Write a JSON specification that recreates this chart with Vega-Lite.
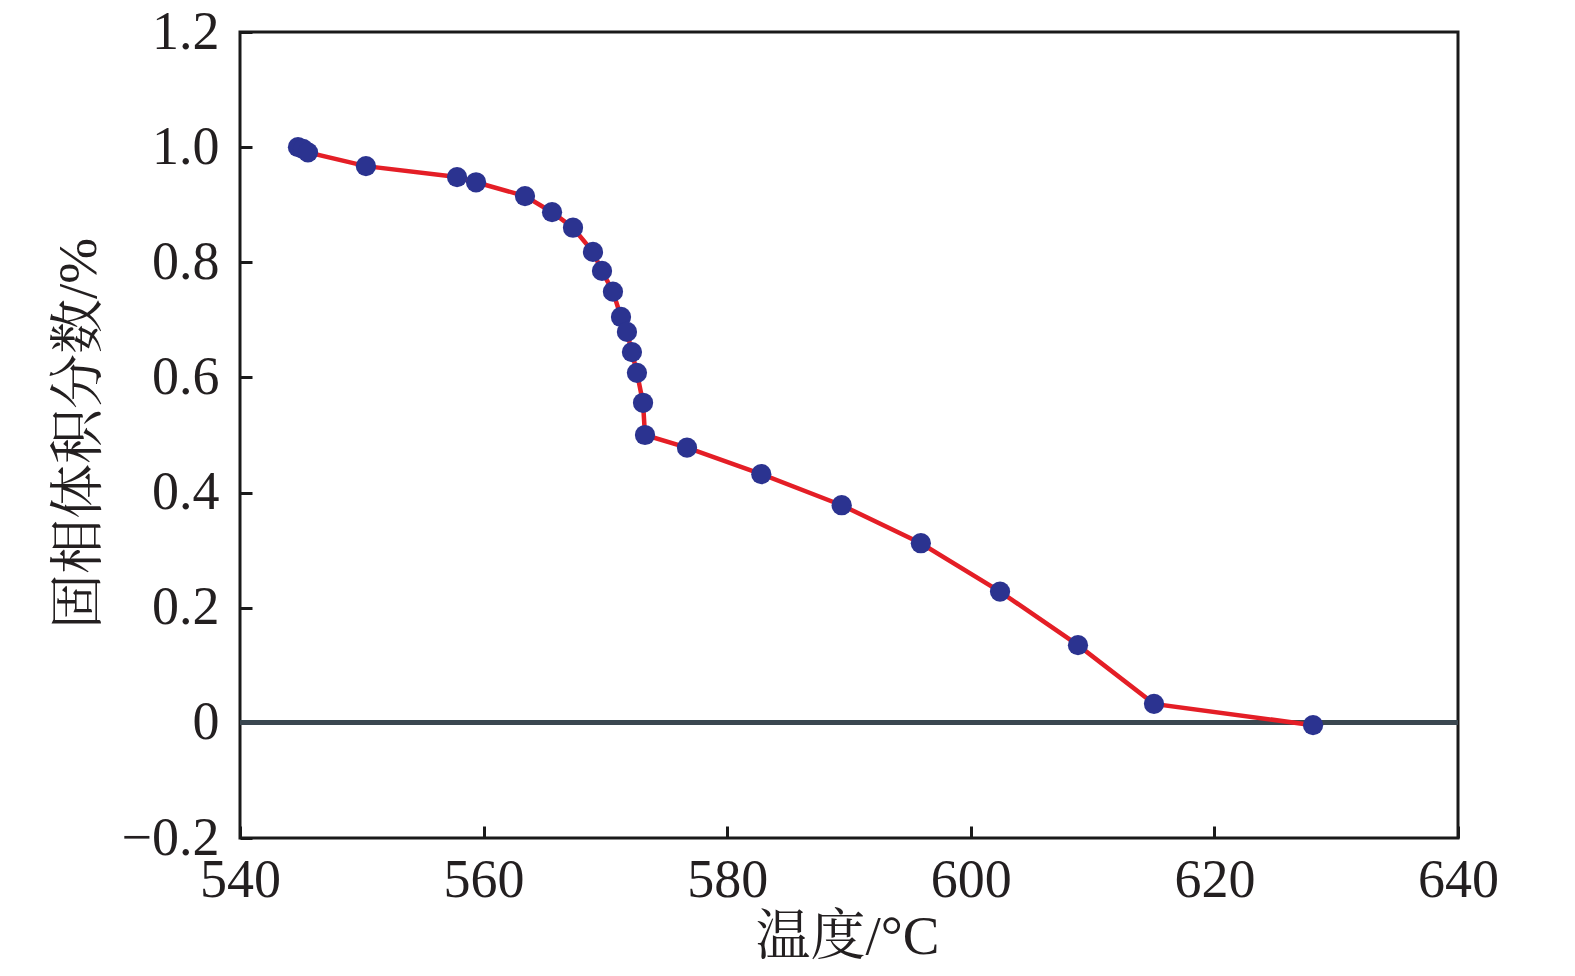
{
  "$schema": "https://vega.github.io/schema/vega-lite/v6.json",
  "width": 1218,
  "height": 806,
  "autosize": "none",
  "padding": {"left": 240, "top": 32, "right": 117, "bottom": 138},
  "background": "white",
  "data": {
    "values": [
      {"T": 544.76, "f": 1.0},
      {"T": 545.17, "f": 0.997},
      {"T": 545.58, "f": 0.991},
      {"T": 550.34, "f": 0.967},
      {"T": 557.82, "f": 0.948},
      {"T": 559.38, "f": 0.939},
      {"T": 563.4, "f": 0.915},
      {"T": 565.62, "f": 0.887},
      {"T": 567.34, "f": 0.86},
      {"T": 568.98, "f": 0.818},
      {"T": 569.72, "f": 0.785},
      {"T": 570.62, "f": 0.749},
      {"T": 571.28, "f": 0.705},
      {"T": 571.77, "f": 0.679},
      {"T": 572.18, "f": 0.644},
      {"T": 572.59, "f": 0.608},
      {"T": 573.09, "f": 0.556},
      {"T": 573.25, "f": 0.5},
      {"T": 576.7, "f": 0.478},
      {"T": 582.8, "f": 0.432},
      {"T": 589.4, "f": 0.378},
      {"T": 595.9, "f": 0.312},
      {"T": 602.4, "f": 0.228},
      {"T": 608.8, "f": 0.135},
      {"T": 615.04, "f": 0.033},
      {"T": 628.1, "f": -0.004}
    ]
  },
  "encoding": {
    "x": {
      "field": "T",
      "type": "quantitative",
      "scale": {"domain": [540, 640], "nice": false, "zero": false},
      "axis": {
        "values": [540, 560, 580, 600, 620, 640],
        "title": "温度/°C",
        "titleX": 607,
        "titleY": 98,
        "titleAlign": "center",
        "titleBaseline": "middle"
      }
    },
    "y": {
      "field": "f",
      "type": "quantitative",
      "scale": {"domain": [-0.2, 1.2], "nice": false, "zero": false},
      "axis": {
        "values": [-0.2, 0, 0.2, 0.4, 0.6, 0.8, 1.0, 1.2],
        "labelExpr": "datum.value == 0 ? '0' : format(datum.value, '.1f')",
        "title": "固相体积分数/%",
        "titleAngle": 270,
        "titleX": -162,
        "titleY": 401,
        "titleAlign": "center",
        "titleBaseline": "middle"
      }
    }
  },
  "layer": [
    {
      "mark": {"type": "rule", "color": "#3b4750", "strokeWidth": 4},
      "encoding": {"x": {"datum": 540}, "x2": {"datum": 640}, "y": {"datum": 0}}
    },
    {
      "mark": {"type": "line", "color": "#e41e26", "strokeWidth": 4.5}
    },
    {
      "mark": {"type": "point", "shape": "circle", "filled": true, "color": "#2b3390", "size": 410, "opacity": 1}
    }
  ],
  "config": {
    "view": {"stroke": "#1a1a1a", "strokeWidth": 3},
    "axis": {
      "grid": false,
      "domain": false,
      "labelFlush": false,
      "labelOverlap": false,
      "tickColor": "#1a1a1a",
      "tickWidth": 3,
      "tickSize": -12,
      "labelFont": "Liberation Serif",
      "labelFontSize": 54,
      "labelColor": "#231f20",
      "titleFont": "Liberation Serif, Noto Serif CJK SC, Noto Sans CJK SC",
      "titleFontSize": 55,
      "titleFontWeight": "normal",
      "titleColor": "#231f20"
    },
    "axisX": {"labelPadding": 27},
    "axisY": {"labelPadding": 33}
  }
}
